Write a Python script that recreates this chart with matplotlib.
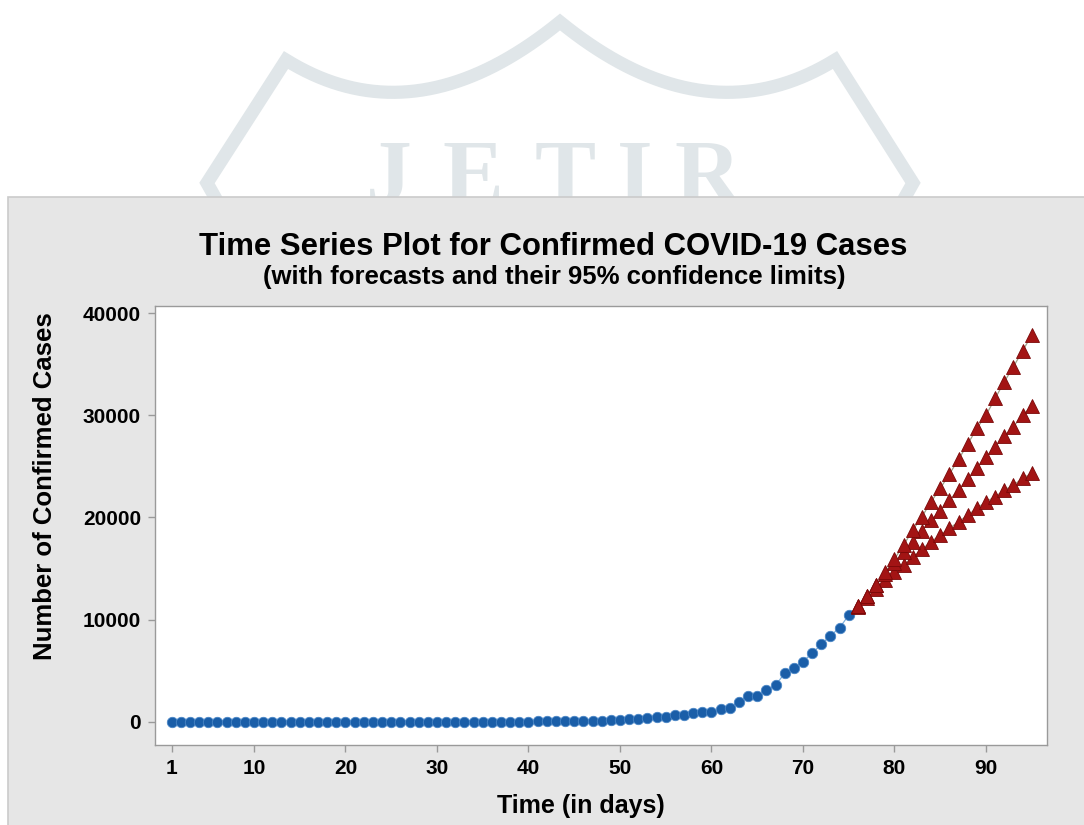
import numpy as np
import matplotlib
import matplotlib.pyplot as plt
from matplotlib.patches import Rectangle

matplotlib.use("Agg")
plt.rcParams['font.family'] = ['Liberation Sans', 'DejaVu Sans']
plt.rcParams['font.weight'] = 'bold'

# observed confirmed cases, day 1..75
days_obs = np.arange(1, 76)
cases_obs = [1, 1, 1, 2, 3, 3, 3, 3, 3, 3,
             3, 3, 3, 3, 3, 3, 3, 3, 3, 3,
             3, 3, 3, 3, 3, 3, 3, 3, 3, 3,
             3, 3, 5, 6, 28, 30, 31, 34, 39, 43,
             56, 62, 73, 82, 102, 113, 119, 142, 156, 194,
             244, 330, 396, 499, 536, 657, 727, 887, 987, 1024,
             1251, 1397, 1998, 2543, 2567, 3082, 3588, 4778, 5311, 5916,
             6725, 7598, 8446, 9205, 10453]

# forecasts with 95% limits, day 76..95
days_fc = np.arange(76, 96)
fc_lower = [11250, 12150, 13000, 13850, 14650, 15350, 16160, 16880, 17630, 18280,
            18930, 19580, 20230, 20890, 21540, 22030, 22680, 23170, 23820, 24340]
fc_mid = [11300, 12300, 13400, 14500, 15550, 16600, 17630, 18700, 19750, 20660,
          21700, 22680, 23720, 24800, 25940, 26910, 27960, 28870, 30010, 30890]
fc_upper = [11350, 12300, 13400, 14650, 15950, 17300, 18770, 20070, 21540, 22840,
            24240, 25680, 27170, 28710, 30010, 31640, 33270, 34740, 36300, 37830]

W, H = 1084, 825
fig = plt.figure(figsize=(W / 100, H / 100), dpi=100)

# background: journal watermark + grey panel
bg = fig.add_axes([0, 0, 1, 1], zorder=0)
bg.set_xlim(0, W)
bg.set_ylim(H, 0)
bg.axis('off')

wm = '#e0e6e9'

def bez(p0, c, p2, n=40):
    t = np.linspace(0, 1, n)[:, None]
    return (1 - t) ** 2 * np.array(p0) + 2 * (1 - t) * t * np.array(c) + t ** 2 * np.array(p2)

pts = [np.array([[225, 215], [207, 183], [286, 60]]),
       bez((286, 60), (415, 140), (560, 22)),
       bez((560, 22), (705, 140), (835, 60)),
       np.array([[835, 60], [913, 183], [895, 215]])]
shield = np.vstack(pts)
bg.plot(shield[:, 0], shield[:, 1], color=wm, lw=9.5, solid_joinstyle='miter')
for ch, cx in zip('JETIR', [389, 473, 565, 635, 708]):
    bg.text(cx, 203, ch, family='Liberation Serif', fontsize=66,
            fontweight='bold', color=wm, ha='center', va='baseline')

bg.add_patch(Rectangle((8, 197), 1100, 640, facecolor='#e6e6e6',
                       edgecolor='#cbcbcb', lw=1.2, zorder=3))

fig.text(553 / W, 1 - 255 / H, 'Time Series Plot for Confirmed COVID-19 Cases',
         ha='center', va='baseline', fontsize=22.4, fontweight='bold', zorder=5)
fig.text(554 / W, 1 - 284 / H, '(with forecasts and their 95% confidence limits)',
         ha='center', va='baseline', fontsize=18.5, fontweight='bold', zorder=5)

ax = fig.add_axes([155 / W, 1 - 745 / H, (1047 - 155) / W, (745 - 306) / H], zorder=2)
ax.set_facecolor('white')

ax.plot(days_obs, cases_obs, color='#7fb0dd', lw=0.9, zorder=2)
ax.plot(days_obs, cases_obs, 'o', color='#1a5ea8', markeredgecolor='#4a86c6',
        markeredgewidth=0.6, markersize=7.5, zorder=3)

for s in (fc_lower, fc_mid, fc_upper):
    ax.plot(days_fc, s, color='#a0a088', lw=0.9, zorder=4)
    ax.plot(days_fc, s, '^', color='#a31414', markeredgecolor='#7a0808',
            markeredgewidth=0.6, markersize=10, zorder=5)

ax.set_xlim(-0.82, 96.67)
ax.set_ylim(-2250, 40685)
ax.set_xticks([1, 10, 20, 30, 40, 50, 60, 70, 80, 90])
ax.set_yticks([0, 10000, 20000, 30000, 40000])
ax.tick_params(axis='both', direction='out', length=5, width=1, color='#9a9a9a',
               labelsize=15, pad=5)
for lab in ax.get_xticklabels() + ax.get_yticklabels():
    lab.set_fontweight('bold')
for sp in ax.spines.values():
    sp.set_color('#9a9a9a')
    sp.set_linewidth(1)

fig.text(45 / W, 1 - 486 / H, 'Number of Confirmed Cases', rotation=90,
         ha='center', va='center', fontsize=18.5, fontweight='bold', zorder=5)
fig.text(581 / W, 1 - 813 / H, 'Time (in days)', ha='center', va='baseline',
         fontsize=18, fontweight='bold', zorder=5)

fig.savefig('out.png', dpi=100)
